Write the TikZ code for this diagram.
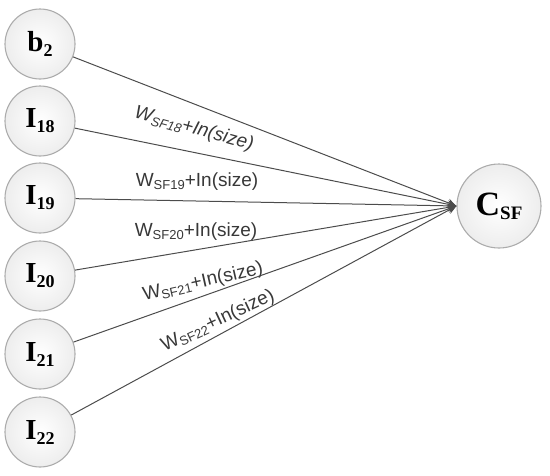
\documentclass[tikz,border=0pt]{standalone}
\usepackage{fontspec}
\setmainfont{Liberation Serif}
\newfontfamily\lblfont{Liberation Sans}
\usetikzlibrary{arrows.meta}
\newcommand{\nlab}[2]{{\fontsize{29}{29}\selectfont\bfseries #1}\raisebox{-5pt}{\fontsize{18}{18}\selectfont\bfseries #2}}
\newcommand{\wl}[1]{W\raisebox{-3pt}{\fontsize{13}{13}\selectfont SF#1}+In(size)}
\begin{document}
\begin{tikzpicture}[x=1pt,y=-1pt,
  neuron/.style={circle, minimum size=70pt, inner sep=0pt, draw=gray!65, line width=1.1pt, inner color=white, outer color=gray!14},
  conn/.style={draw=black!70, line width=1pt, -{Stealth[length=9pt,width=8pt]}},
  wlabel/.style={text=black!78, font=\lblfont\fontsize{19}{19}\selectfont, inner sep=0pt}
]
\useasboundingbox (0,0) rectangle (550,475);
\node[neuron] (b2) at (40,44) {\nlab{b}{2}};
\node[neuron] (i18) at (40,121) {\nlab{I}{18}};
\node[neuron] (i19) at (40,198) {\nlab{I}{19}};
\node[neuron] (i20) at (40,276) {\nlab{I}{20}};
\node[neuron] (i21) at (40,354) {\nlab{I}{21}};
\node[neuron] (i22) at (40,432) {\nlab{I}{22}};
\node[neuron, minimum size=84pt] (c) at (499,206) {{\fontsize{34}{34}\selectfont\bfseries C}\raisebox{-4pt}{\fontsize{19}{19}\selectfont\bfseries SF}};
\foreach \n in {b2,i18,i19,i20,i21,i22} \draw[conn] (\n) -- (c.west);
\node[wlabel, rotate=-15.5, font=\lblfont\itshape\fontsize{19}{19}\selectfont] (l18) at (194,129) {\wl{18}};
\node[wlabel] (l19) at (197,182) {\wl{19}};
\node[wlabel] (l20) at (196,232) {\wl{20}};
\node[wlabel, rotate=12.7] (l21) at (203,282) {\wl{21}};
\node[wlabel, rotate=25] (l22) at (218,321) {\wl{22}};
\end{tikzpicture}
\end{document}
